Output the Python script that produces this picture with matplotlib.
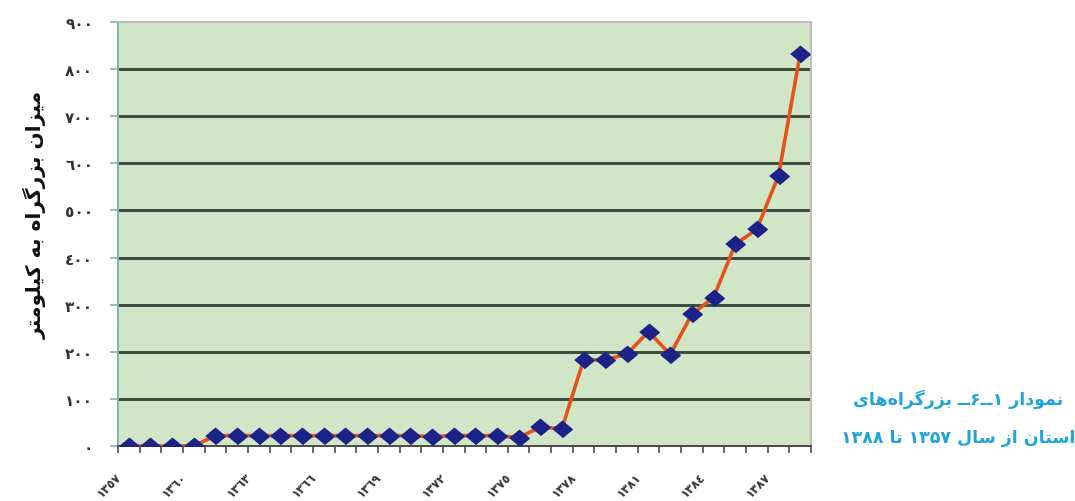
import matplotlib
matplotlib.use('Agg')
import matplotlib.pyplot as plt
from matplotlib import transforms

# ---------------- data ----------------
years = [1357, 1358, 1359, 1360, 1361, 1362, 1363, 1364, 1365, 1366, 1367,
         1368, 1369, 1370, 1371, 1372, 1373, 1374, 1375, 1376, 1377, 1378,
         1379, 1380, 1381, 1382, 1383, 1384, 1385, 1386, 1387, 1388]
highway_km = [0, 0, 0, 0, 22, 22, 22, 22, 22, 22, 22, 22, 22, 22, 20, 22,
              22, 22, 18, 40, 37, 183, 183, 195, 243, 194, 280, 315, 428,
              460, 574, 832]
xtick_labels = ['١٣٥٧', '١٣٦٠', '١٣٦٣', '١٣٦٦', '١٣٦٩', '١٣٧٢', '١٣٧٥',
                '١٣٧٨', '١٣٨١', '١٣٨٤', '١٣٨٧']
xtick_years = [1357, 1360, 1363, 1366, 1369, 1372, 1375, 1378, 1381, 1384, 1387]
ytick_values = [0, 100, 200, 300, 400, 500, 600, 700, 800, 900]
ytick_labels = ['٠', '١٠٠', '٢٠٠', '٣٠٠', '٤٠٠', '٥٠٠', '٦٠٠', '٧٠٠', '٨٠٠', '٩٠٠']
ylabel_text = 'میزان بزرگراه به کیلومتر'
title_line1 = 'نمودار ۱ــ۶ــ بزرگراه\u200cهای'
title_line2 = 'استان از سال ۱۳۵۷ تا ۱۳۸۸'

# ------------- simple Persian shaping (matplotlib has no complex layout) ---
FORMS = {
    'ا': ('\uFE8D', '\uFE8E', None, None),
    'ب': ('\uFE8F', '\uFE90', '\uFE91', '\uFE92'),
    'ت': ('\uFE95', '\uFE96', '\uFE97', '\uFE98'),
    'د': ('\uFEA9', '\uFEAA', None, None),
    'ر': ('\uFEAD', '\uFEAE', None, None),
    'ز': ('\uFEAF', '\uFEB0', None, None),
    'س': ('\uFEB1', '\uFEB2', '\uFEB3', '\uFEB4'),
    'ل': ('\uFEDD', '\uFEDE', '\uFEDF', '\uFEE0'),
    'م': ('\uFEE1', '\uFEE2', '\uFEE3', '\uFEE4'),
    'ن': ('\uFEE5', '\uFEE6', '\uFEE7', '\uFEE8'),
    'ه': ('\uFEE9', '\uFEEA', '\uFEEB', '\uFEEC'),
    'و': ('\uFEED', '\uFEEE', None, None),
    'ی': ('\uFBFC', '\uFBFD', '\uFBFE', '\uFBFF'),
    'ک': ('\uFB8E', '\uFB8F', '\uFB90', '\uFB91'),
    'گ': ('\uFB92', '\uFB93', '\uFB94', '\uFB95'),
}
TATWEEL = '\u0640'


def joins_next(c):
    return c == TATWEEL or (c in FORMS and FORMS[c][2] is not None)


def joins_prev(c):
    return c == TATWEEL or c in FORMS


def persian(s):
    out = []
    for i, c in enumerate(s):
        if c not in FORMS:
            out.append(c)
            continue
        prev = s[i - 1] if i > 0 else ''
        nxt = s[i + 1] if i + 1 < len(s) else ''
        p = bool(prev) and joins_next(prev)
        n = bool(nxt) and joins_prev(nxt) and FORMS[c][2] is not None
        iso, fin, ini, med = FORMS[c]
        if p and n:
            out.append(med)
        elif p:
            out.append(fin)
        elif n:
            out.append(ini)
        else:
            out.append(iso)
    shaped = ''.join(ch for ch in out if ch != '\u200c')
    # visual order: RTL paragraph, digit runs kept LTR
    runs = []
    for ch in shaped:
        d = ch.isdigit()
        if runs and runs[-1][0] == d:
            runs[-1][1] += ch
        else:
            runs.append([d, ch])
    vis = []
    for d, txt in reversed(runs):
        vis.append(txt if d else txt[::-1])
    return ''.join(vis)


plt.rcParams['font.family'] = ['DejaVu Sans']

# ---------------- figure ----------------
fig = plt.figure(figsize=(10.75, 5.02), dpi=100)
ax = fig.add_axes([118 / 1075, 1 - 447 / 502, (811 - 118) / 1075, (447 - 23) / 502])
ax.set_facecolor('#d0e6c7')

xpos = list(range(len(years)))
ax.set_xlim(-0.5, len(years) - 0.5)
ax.set_ylim(0, 900)

# grid lines
for v in ytick_values[1:-1]:
    ax.axhline(v, color='#3c4a3e', lw=2.1, zorder=1)

marker = [(-1.2, 0), (0, 1), (1.2, 0), (0, -1)]
ax.plot(xpos, highway_km, color='#e5521c', lw=2.6, zorder=3,
        solid_joinstyle='round')
ax.plot(xpos, highway_km, ls='none', marker=marker, markersize=14,
        color='#1c2388', markeredgecolor='#1c2388', zorder=4)

# spines
for side, col in (('top', '#bdbdbd'), ('right', '#bdbdbd'),
                  ('left', '#7fb6ae'), ('bottom', '#4a4a4a')):
    ax.spines[side].set_color(col)
    ax.spines[side].set_linewidth(1.4)

# y ticks
ax.set_yticks(ytick_values)
ax.set_yticklabels(ytick_labels, fontsize=11, fontweight='bold', color='#333333')
ax.tick_params(axis='y', length=6, width=1.2, color='#7fb6ae', pad=12)

# x ticks: marks between categories, labels rotated
ax.set_xticks([i - 0.5 for i in range(len(years) + 1)])
ax.set_xticklabels([])
ax.tick_params(axis='x', length=5, width=1.2, color='#4a4a4a', direction='out')

base = transforms.blended_transform_factory(ax.transData, ax.transAxes)
lab_tr = transforms.offset_copy(base, fig=fig, x=-10, y=-28, units='dots')
for yr, lab in zip(xtick_years, xtick_labels):
    ax.text(years.index(yr), 0, lab, transform=lab_tr, rotation=45,
            rotation_mode='anchor', ha='right', va='center', fontsize=8.5,
            fontweight='bold', color='#333333', clip_on=False)

# y axis title
fig.text(35 / 1075, 1 - 215 / 502, persian(ylabel_text), rotation=90,
         ha='center', va='center', fontsize=14.5, fontweight='bold', color='#111111')

# caption at right
cap_color = '#1ea3dd'
fig.text(958 / 1075, 1 - 399 / 502, persian(title_line1), ha='center',
         va='center', fontsize=12.5, fontweight='bold', color=cap_color)
fig.text(958 / 1075, 1 - 438 / 502, persian(title_line2), ha='center',
         va='center', fontsize=12.5, fontweight='bold', color=cap_color)

fig.savefig('out.png', dpi=100, facecolor='white')
